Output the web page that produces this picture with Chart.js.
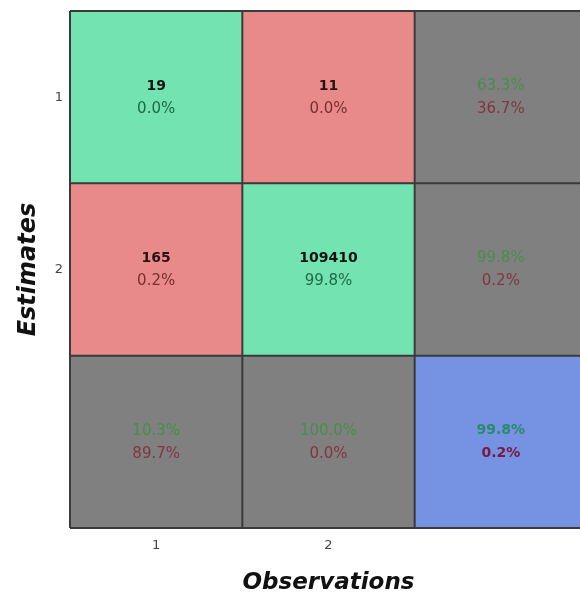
<!DOCTYPE html>
<html>
<head>
<meta charset="utf-8">
<script src="https://cdn.jsdelivr.net/npm/chart.js@4/dist/chart.umd.min.js"></script>
<style>
  html, body { margin: 0; padding: 0; background: #ffffff; overflow: hidden; }
  canvas { display: block; }
</style>
</head>
<body>
<canvas id="cm" width="600" height="594"></canvas>
<script>
// Class labels along each axis (the summary column/row has no label)
const observationLabels = ['1', '2', ''];
const estimateLabels = ['1', '2', ''];

// Confusion counts: rows = estimated class, columns = observed class
const counts = [
  [19, 11],
  [165, 109410]
];
// Share of all samples in each cell (%)
const cellShare = [
  [0.0, 0.0],
  [0.2, 99.8]
];
// Per-row summary (correct %, wrong %)
const rowCorrect = [63.3, 99.8];
const rowWrong = [36.7, 0.2];
// Per-column summary (correct %, wrong %)
const colCorrect = [10.3, 100.0];
const colWrong = [89.7, 0.0];
// Overall accuracy / error (%)
const overallCorrect = 99.8;
const overallWrong = 0.2;

const COLORS = {
  hit: '#73e3b1',
  miss: '#e88a8a',
  summary: '#808080',
  total: '#7592e3',
  line: '#3a3a3a'
};

const n = counts.length;
const size = n + 1;

function cellKind(r, c) {
  if (r === n && c === n) return 'total';
  if (r === n || c === n) return 'summary';
  return r === c ? 'hit' : 'miss';
}

// One floating-bar dataset per matrix row; each bar spans that row band
const datasets = [];
for (let r = 0; r < size; r++) {
  const rowValue = r + 1;
  datasets.push({
    label: 'row ' + rowValue,
    data: observationLabels.map(() => [rowValue - 0.5, rowValue + 0.5]),
    backgroundColor: observationLabels.map((_, c) => COLORS[cellKind(r, c)]),
    borderWidth: 0,
    barPercentage: 1,
    categoryPercentage: 1,
    grouped: false
  });
}

const fmt = v => v.toFixed(1) + '%';

// Grid lines around the cells
const gridLines = {
  id: 'gridLines',
  afterDatasetsDraw(chart) {
    const { ctx, chartArea, scales: { x, y } } = chart;
    ctx.save();
    ctx.strokeStyle = COLORS.line;
    ctx.lineWidth = 2;
    ctx.beginPath();
    for (let c = 0; c <= size; c++) {
      const px = c === 0 ? chartArea.left : (c === size ? chartArea.right :
        (x.getPixelForValue(c - 1) + x.getPixelForValue(c)) / 2);
      ctx.moveTo(px, chartArea.top);
      ctx.lineTo(px, chartArea.bottom);
    }
    for (let r = 0; r <= size; r++) {
      const py = y.getPixelForValue(r + 0.5);
      ctx.moveTo(chartArea.left, py);
      ctx.lineTo(chartArea.right, py);
    }
    ctx.stroke();
    ctx.restore();
  }
};

// Cell texts
const cellText = {
  id: 'cellText',
  afterDraw(chart) {
    const { ctx, scales: { x, y } } = chart;
    ctx.save();
    ctx.textAlign = 'center';
    ctx.textBaseline = 'middle';
    const put = (txt, px, py, font, color) => {
      ctx.font = font;
      ctx.fillStyle = color;
      ctx.fillText(txt, px, py);
    };
    const bold = 'bold 14px "DejaVu Sans"';
    const normal = '15px "DejaVu Sans"';
    for (let r = 0; r < size; r++) {
      for (let c = 0; c < size; c++) {
        const cx = x.getPixelForValue(c);
        const cy = y.getPixelForValue(r + 1);
        const kind = cellKind(r, c);
        const top = cy - 11, bot = cy + 12;
        if (kind === 'hit') {
          put(String(counts[r][c]), cx, top, bold, '#111111');
          put(fmt(cellShare[r][c]), cx, bot, normal, '#1f6a48');
        } else if (kind === 'miss') {
          put(String(counts[r][c]), cx, top, bold, '#2a1212');
          put(fmt(cellShare[r][c]), cx, bot, normal, '#7a2e30');
        } else if (kind === 'summary') {
          const good = c === n ? rowCorrect[r] : colCorrect[c];
          const bad = c === n ? rowWrong[r] : colWrong[c];
          put(fmt(good), cx, top, normal, '#478c4c');
          put(fmt(bad), cx, bot, normal, '#84343f');
        } else {
          put(fmt(overallCorrect), cx, top, bold, '#2b8a6a');
          put(fmt(overallWrong), cx, bot, bold, '#7a1844');
        }
      }
    }
    ctx.restore();
  }
};

new Chart(document.getElementById('cm'), {
  type: 'bar',
  data: { labels: observationLabels, datasets },
  options: {
    responsive: false,
    animation: false,
    layout: { padding: { top: 11, right: 13, left: 0, bottom: 0 } },
    plugins: { legend: { display: false }, tooltip: { enabled: false } },
    scales: {
      x: {
        type: 'category',
        offset: true,
        grid: { display: false, drawTicks: false },
        border: { display: false },
        ticks: { padding: 10, color: '#444444', font: { family: 'DejaVu Sans', size: 13 } },
        title: {
          display: true,
          text: 'Observations',
          color: '#111111',
          font: { family: 'DejaVu Sans', size: 23, weight: 'bold', style: 'italic' },
          padding: { top: 0, bottom: -3 }
        },
        afterFit(scale) { scale.height = 66; }
      },
      y: {
        type: 'linear',
        reverse: true,
        min: 0.5,
        max: 3.5,
        grid: { display: false, drawTicks: false },
        border: { display: false },
        afterBuildTicks(scale) {
          scale.ticks = estimateLabels.map((_, i) => ({ value: i + 1 }));
        },
        ticks: {
          padding: 7,
          color: '#444444',
          font: { family: 'DejaVu Sans', size: 13 },
          callback: v => estimateLabels[v - 1] ?? ''
        },
        title: {
          display: true,
          text: 'Estimates',
          color: '#111111',
          font: { family: 'DejaVu Sans', size: 24, weight: 'bold', style: 'italic' },
          padding: { top: 14, bottom: 0 }
        },
        afterFit(scale) {
          scale.width = 70;
          scale.paddingTop = 0;
          scale.paddingBottom = 0;
        }
      }
    }
  },
  plugins: [gridLines, cellText]
});
</script>
</body>
</html>
